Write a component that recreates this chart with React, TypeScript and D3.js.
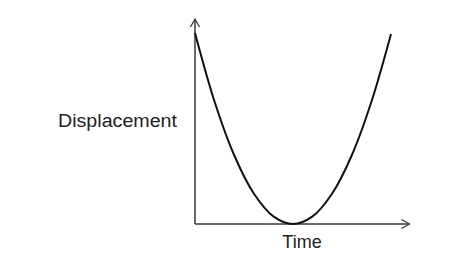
import React from "react";
import * as d3 from "d3";

const times = [0, 1, 2, 3, 4, 5, 6, 7, 8, 9, 10];
const displacement = [100, 64, 36, 16, 4, 0, 4, 16, 36, 64, 99.5];
const xLabel = "Time";
const yLabel = "Displacement";

const W = 466;
const H = 271;

export default function App() {
  const x = d3.scaleLinear().domain([0, 10]).range([195, 391]);
  const y = d3.scaleLinear().domain([0, 100]).range([224, 33]);
  const data = times.map((t, i) => ({ t, d: displacement[i] }));
  const line = d3
    .line<{ t: number; d: number }>()
    .x((p) => x(p.t))
    .y((p) => y(p.d))
    .curve(d3.curveCatmullRom.alpha(0.5));

  const ox = x(0);
  const oy = y(0);
  const axisColor = "#3a3a3a";
  return (
    <svg
      width={W}
      height={H}
      style={{ position: "absolute", left: 0, top: 0, background: "#fff" }}
    >
      {/* axes */}
      <line x1={ox} y1={oy} x2={409} y2={oy} stroke={axisColor} strokeWidth={1.5} />
      <line x1={ox} y1={oy} x2={ox} y2={19} stroke={axisColor} strokeWidth={1.5} />
      {/* arrowheads */}
      <polyline
        points={`${401.5},${oy - 4.5} ${409.5},${oy} ${401.5},${oy + 4.5}`}
        fill="none"
        stroke={axisColor}
        strokeWidth={1.3}
      />
      <polyline
        points={`${ox - 4.5},${27} ${ox},${19} ${ox + 4.5},${27}`}
        fill="none"
        stroke={axisColor}
        strokeWidth={1.3}
      />
      {/* curve */}
      <path d={line(data) || ""} fill="none" stroke="#111" strokeWidth={2} />
      {/* labels */}
      <text
        x={58}
        y={127}
        fontFamily="Liberation Sans, Arial, sans-serif"
        fontSize={18}
        fill="#222"
        textLength={119}
        lengthAdjust="spacingAndGlyphs"
      >
        {yLabel}
      </text>
      <text
        x={302}
        y={248}
        textAnchor="middle"
        fontFamily="Liberation Sans, Arial, sans-serif"
        fontSize={18}
        fill="#222"
      >
        {xLabel}
      </text>
    </svg>
  );
}
